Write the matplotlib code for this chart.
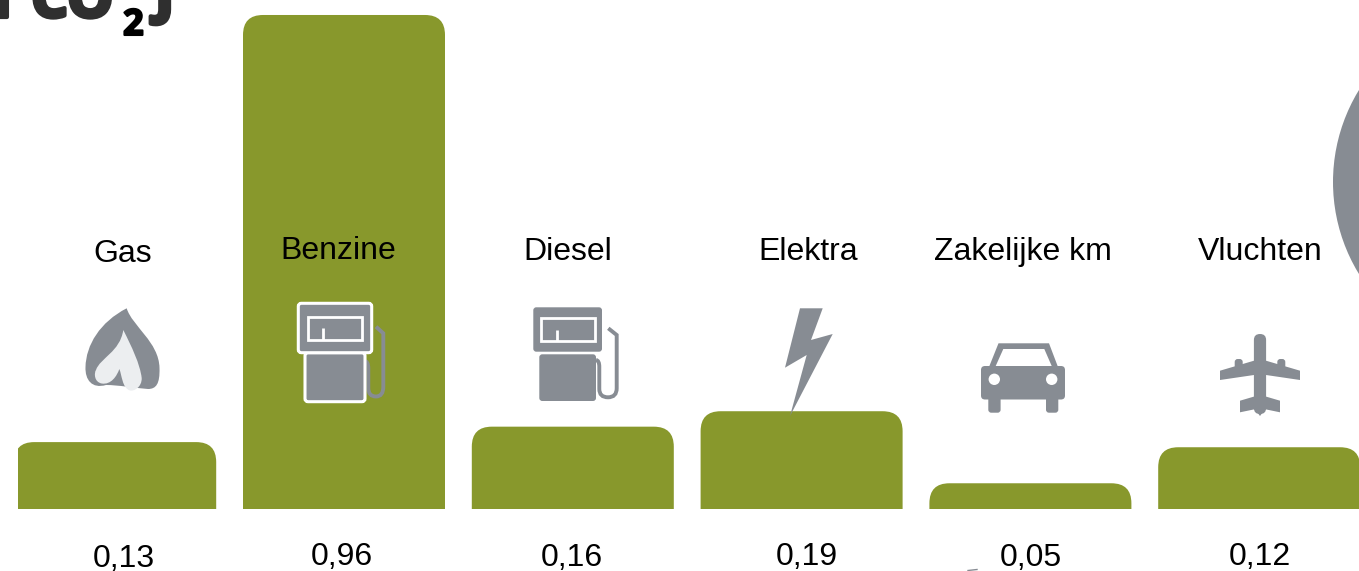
import matplotlib
matplotlib.use('Agg')
import matplotlib.pyplot as plt
import matplotlib.patheffects as pe
from matplotlib.path import Path
from matplotlib.patches import PathPatch, Polygon, Circle, FancyBboxPatch, Rectangle
from matplotlib.transforms import IdentityTransform

categories = ['Gas', 'Benzine', 'Diesel', 'Elektra', 'Zakelijke km', 'Vluchten']
values = [0.13, 0.96, 0.16, 0.19, 0.05, 0.12]
value_labels = ['0,13', '0,96', '0,16', '0,19', '0,05', '0,12']

# waar de teksten staan in pixels, die staan niet netjes onder de balken
cat_x = [122.5, 338.5, 567.5, 808.5, 1023, 1260]
cat_y = [254.5, 251, 251.5, 252.5, 252, 252]
val_x = [124, 341.5, 572, 807, 1031, 1260]
val_y = [559, 557, 558, 557, 558, 557]

GREEN = '#88982c'
GREY = '#878c93'
DARK = '#2f2f2f'
W, H = 1359, 571
BASE = 509
PX_PER_UNIT = 514.6
PITCH = 228.8
X0 = 115.2
BAR_W = 202 / PITCH

plt.rcParams['font.family'] = ['Liberation Sans', 'DejaVu Sans']

fig = plt.figure(figsize=(W / 100, H / 100), dpi=100)

# assen voor de balken: x = index, y = waarde
ax = fig.add_axes([0, 0, 1, 1])
ax.set_xlim(-X0 / PITCH, (W - X0) / PITCH)
ax.set_ylim(-(H - BASE) / PX_PER_UNIT, BASE / PX_PER_UNIT)
ax.axis('off')


def top_rounded_bar(a, x, h, w, rx, ry):
    l, r = x - w / 2, x + w / 2
    ry = min(ry, h)
    verts = [(l, 0), (l, h - ry), (l, h), (l + rx, h), (r - rx, h), (r, h), (r, h - ry), (r, 0), (l, 0)]
    codes = [Path.MOVETO, Path.LINETO, Path.CURVE3, Path.CURVE3, Path.LINETO,
             Path.CURVE3, Path.CURVE3, Path.LINETO, Path.CLOSEPOLY]
    p = PathPatch(Path(verts, codes), fc=GREEN, ec='none', zorder=2)
    a.add_patch(p)
    return p


for i, v in enumerate(values):
    p = top_rounded_bar(ax, i, v, BAR_W, 20 / PITCH, 20 / PX_PER_UNIT)
    if i == 0:
        # de eerste balk is links afgesneden
        clip = Rectangle((18, 0), 400, H, transform=IdentityTransform())
        p.set_clip_path(clip)

# tweede assen in pixels voor iconen en tekst
ov = fig.add_axes([0, 0, 1, 1])
ov.set_xlim(0, W)
ov.set_ylim(H, 0)
ov.axis('off')
ov.patch.set_alpha(0)

# titel, bovenkant valt buiten beeld
thick = [pe.withStroke(linewidth=3, foreground=DARK)]
ov.text(-27, 17, 'n', fontsize=42, fontweight='bold', family='Open Sans', color=DARK, va='baseline', path_effects=thick)
ov.text(31, 17, 'CO', fontsize=42, fontweight='bold', family='Open Sans', color=DARK, va='baseline', path_effects=thick)
two = ov.text(123, 35, '2', fontsize=26, fontweight='bold', family='Open Sans', color='black', va='baseline')
two.set_path_effects([pe.withStroke(linewidth=1.5, foreground='black')])
ov.text(155, 12, 'J', fontsize=42, fontweight='bold', family='Open Sans', color=DARK, va='baseline', path_effects=thick)

for c, x, y in zip(categories, cat_x, cat_y):
    ov.text(x, y, c, fontsize=23, color='black', ha='center', va='center')
for t, x, y in zip(value_labels, val_x, val_y):
    ov.text(x, y, t, fontsize=23, color='black', ha='center', va='center')

# vlam
flame = Path([(126.7, 308.3), (132, 326), (159, 342), (159.5, 368), (160, 384), (156, 389), (148, 389),
              (135, 388), (118, 385), (106, 385), (92, 389), (85, 380), (85.5, 367),
              (86, 345), (100, 322), (126.7, 308.3), (126.7, 308.3)],
             [Path.MOVETO] + [Path.CURVE4] * 15 + [Path.CLOSEPOLY])
ov.add_patch(PathPatch(flame, fc=GREY, ec='none', zorder=3))
inner = Path([(123.3, 330), (131.7, 346.7), (140, 364), (141.7, 378), (142, 387), (134, 391.5), (130, 390.5),
              (122, 388), (122, 375), (119.3, 369), (117, 376), (111, 385), (101.7, 383.5),
              (94, 382), (94, 373), (96, 370), (100, 358), (120, 352), (123.3, 330), (123.3, 330)],
             [Path.MOVETO] + [Path.CURVE4] * 18 + [Path.CLOSEPOLY])
ov.add_patch(PathPatch(inner, fc='#eceef0', ec='none', zorder=4))


def pump(head, body, win, tick_x, tick_top, hose, edge):
    lw = 2.2 if edge else 0
    ec = 'white' if edge else 'none'
    for (x0, x1, y0, y1) in (body, head):
        ov.add_patch(FancyBboxPatch((x0 + 3, y0 + 3), x1 - x0 - 6, y1 - y0 - 6, boxstyle='round,pad=3,rounding_size=3',
                                    fc=GREY, ec=ec, lw=lw, zorder=3))
    ov.add_patch(Rectangle((win[0], win[2]), win[1] - win[0], win[3] - win[2], fc='none', ec='white', lw=2, zorder=4))
    ov.plot([tick_x, tick_x], [tick_top, win[3]], color='white', lw=2, zorder=4, solid_capstyle='butt')
    hv = [(x, y) for x, y, _ in hose]
    hc = [c for _, _, c in hose]
    ov.add_patch(PathPatch(Path(hv, hc), fc='none', ec=GREY, lw=2.8, zorder=2.5))


M, L, C = Path.MOVETO, Path.LINETO, Path.CURVE3
pump((298.3, 371.7, 303.3, 352.7), (305, 365, 352.7, 401.7), (307.7, 361.7, 316.7, 340), 323.3, 328,
     [(376, 326.7, M), (383.3, 333.3, L), (383.3, 386.7, L), (383.3, 396.5, C), (376, 396.5, C),
      (368.3, 396.5, C), (368.3, 388, C), (368.3, 368.3, L), (368.3, 361, C), (364, 360.7, C)], True)
pump((533.3, 602, 307.3, 351.7), (539.3, 596, 354.3, 401), (540.7, 595, 317.7, 341), 556.7, 330,
     [(608.3, 328.3, M), (616.7, 335, L), (616.7, 388.3, L), (616.7, 397.3, C), (608, 397.3, C),
      (599.3, 397.3, C), (599.3, 389, C), (599.3, 366.7, L), (599.3, 360.5, C), (596, 360, C)], False)

# bliksem
ov.add_patch(Polygon([(800, 308.3), (822.7, 308.3), (811, 340), (832.7, 334), (790, 416),
                      (806.7, 355), (785, 367.7)], closed=True, fc=GREY, ec='none', zorder=3))

# auto
ov.add_patch(Polygon([(989, 367), (998.5, 343.3), (1049, 343.3), (1058, 367)], closed=True, fc=GREY, ec='none', zorder=3))
ov.add_patch(Polygon([(995.7, 366), (1003.3, 349), (1044.3, 349), (1051.7, 366)], closed=True, fc='white', ec='none', zorder=4))
ov.add_patch(FancyBboxPatch((984, 369), 78, 27.5, boxstyle='round,pad=3,rounding_size=4', fc=GREY, ec='none', zorder=3))
for x in (988.3, 1046):
    ov.add_patch(FancyBboxPatch((x + 3, 394), 6.3, 15.7, boxstyle='round,pad=3,rounding_size=3', fc=GREY, ec='none', zorder=3))
for x in (994.3, 1051.7):
    ov.add_patch(Circle((x, 379.3), 5.7, fc='white', ec='none', zorder=4))

# vliegtuig
ov.add_patch(FancyBboxPatch((1259.9, 340), 0.2, 68, boxstyle='round,pad=6,rounding_size=6', fc=GREY, ec='none', zorder=3))
for pts in ([(1220, 370.7), (1254, 360.7), (1254, 375), (1220, 380)],
            [(1300, 370.7), (1266, 360.7), (1266, 375), (1300, 380)],
            [(1240, 400.7), (1256, 396), (1256, 409), (1240, 412.3)],
            [(1280, 400.7), (1264, 396), (1264, 409), (1280, 412.3)],
            [(1254, 408), (1260, 416), (1266, 408)]):
    ov.add_patch(Polygon(pts, closed=True, fc=GREY, ec='none', zorder=3))
for x in (1238.7, 1281.3):
    ov.add_patch(FancyBboxPatch((x - 1, 362), 2, 4, boxstyle='round,pad=3,rounding_size=3', fc=GREY, ec='none', zorder=3))

# grote cirkel rechts, valt grotendeels buiten beeld
ov.add_patch(Circle((1509, 182), 176, fc=GREY, ec='none', zorder=3))

# restje van iets onder de rand
ov.plot([968, 977], [570.5, 569.5], color=GREY, lw=1, zorder=3)

plt.savefig('out.png', dpi=100)
